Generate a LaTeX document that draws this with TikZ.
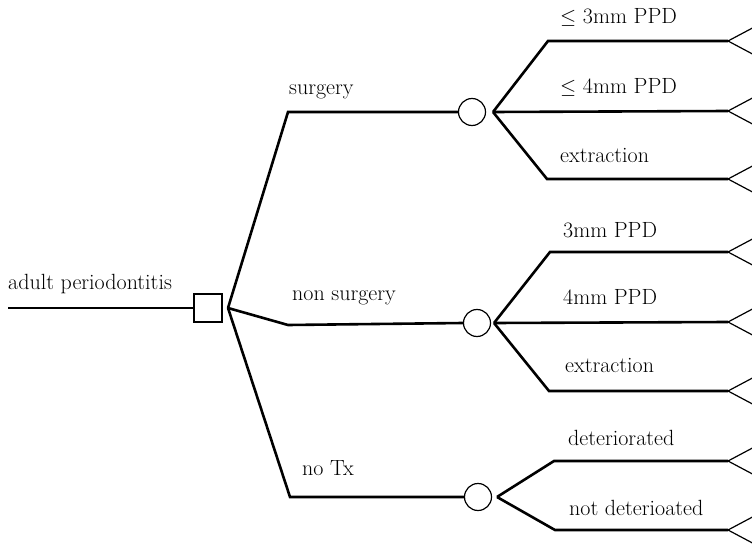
\documentclass[tikz,border=0pt]{standalone}
\usetikzlibrary{positioning,calc}
\begin{document}
\begin{tikzpicture}[x=1pt,y=-1pt,
      branch/.style={line width=2.6pt, line join=miter},
      leaf/.style={line width=1.2pt},
      decision/.style={draw, line width=1.2pt, minimum size=28pt, inner sep=0pt},
      chance/.style={draw, circle, line width=1.2pt, minimum size=27pt, inner sep=0pt},
      lbl/.style={anchor=west, inner sep=0pt, font=\fontsize{22}{26}\selectfont}]
     \useasboundingbox (0,0) rectangle (752,548);
     \clip (0,0) rectangle (752,548);
     % decision and chance nodes
     \node[decision] (dec) at (208,308) {};
     \node[chance] (surg) at (472,112) {};
     \node[chance] (nons) at (477,323) {};
     \node[chance] (notx) at (478,497) {};
     \coordinate (root) at (8,308);
     \coordinate (fork) at (228,308);
     % first level
     \draw[branch] (root) -- (dec.west);
     \draw[branch] (fork) -- (288,112) -- (surg.west);
     \draw[branch] (fork) -- (288,325) -- (nons.west);
     \draw[branch] (fork) -- (290,497) -- (notx.west);
     \node[lbl] (lroot) at (8,284) {adult periodontitis};
     \node[lbl] (lsurg) at (289,92) {surgery};
     \node[lbl] (lnons) at (292,298) {non surgery};
     \node[lbl] (lnotx) at (302,468) {no Tx};
     % second level
     \coordinate (s0) at (493,112);
     \coordinate (n0) at (494,323);
     \coordinate (t0) at (497,497);
     \coordinate (e1) at (728,41);  \coordinate (e2) at (728,111);
     \coordinate (e3) at (728,179); \coordinate (e4) at (728,252);
     \coordinate (e5) at (728,322); \coordinate (e6) at (728,391);
     \coordinate (e7) at (728,461); \coordinate (e8) at (728,530);
     \draw[branch] (s0) -- (548,41) -- (e1);
     \draw[branch] (s0) -- (e2);
     \draw[branch] (s0) -- (547,179) -- (e3);
     \draw[branch] (n0) -- (550,252) -- (e4);
     \draw[branch] (n0) -- (e5);
     \draw[branch] (n0) -- (549,391) -- (e6);
     \draw[branch] (t0) -- (554,461) -- (e7);
     \draw[branch] (t0) -- (555,530) -- (e8);
     \node[lbl] (ls1) at (560,17) {$\leq$ 3mm PPD};
     \node[lbl] (ls2) at (560,87) {$\leq$ 4mm PPD};
     \node[lbl] (ls3) at (560,155) {extraction};
     \node[lbl] (ln1) at (563,230) {3mm PPD};
     \node[lbl] (ln2) at (563,297) {4mm PPD};
     \node[lbl] (ln3) at (565,365) {extraction};
     \node[lbl] (lt1) at (568,438) {deteriorated};
     \node[lbl] (lt2) at (569,508) {not deterioated};
     % terminal nodes
     \foreach \e in {e1,e2,e3,e4,e5,e6,e7,e8}
       \draw[leaf] ($(\e)+(32,-17)$) -- (\e) -- ($(\e)+(32,17)$);
\end{tikzpicture}
\end{document}
